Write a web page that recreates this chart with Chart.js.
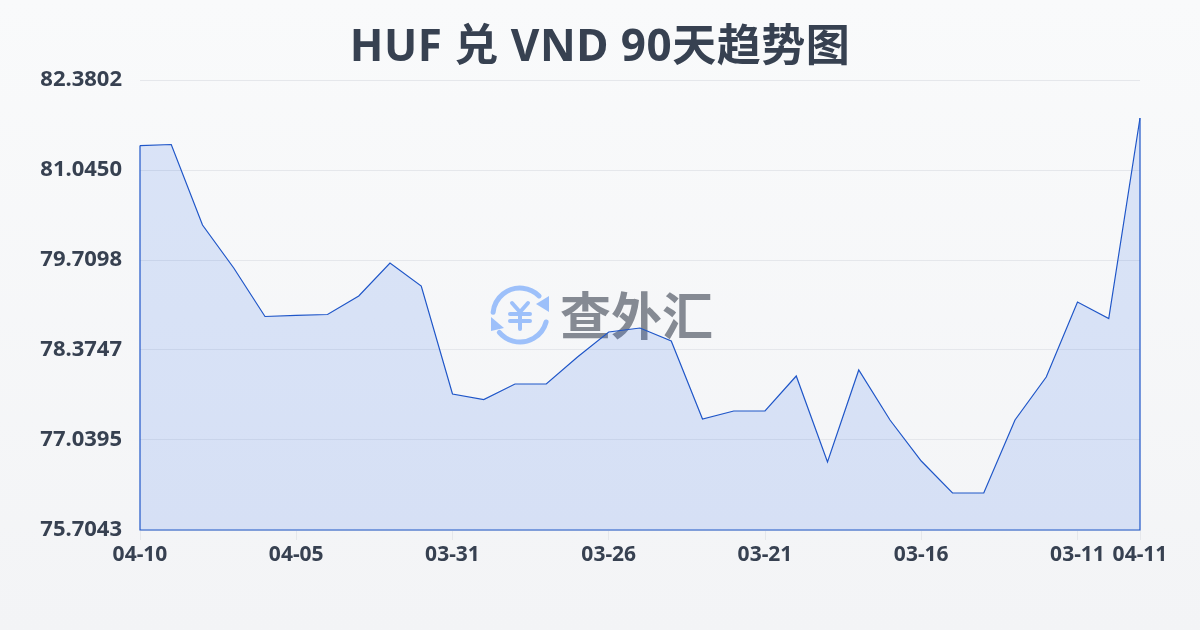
<!DOCTYPE html>
<html>
<head>
<meta charset="utf-8">
<script src="https://cdn.jsdelivr.net/npm/chart.js@4/dist/chart.umd.min.js"></script>
<style>
html, body { margin: 0; padding: 0; }
body { width: 1200px; height: 630px; overflow: hidden; background: linear-gradient(180deg, #f9fafb 0%, #f3f4f6 100%); }
#wrap { position: relative; width: 1200px; height: 630px; }
#title { position: absolute; left: 0; top: 13px; width: 1200px; margin: 0; text-align: center; color: #374151;
    font: bold 44px/62px "Noto Sans", "Noto Sans CJK SC"; letter-spacing: 0.5px; }
</style>
</head>
<body>
<div id="wrap">
<h1 id="title"></h1>
<canvas id="rateChart" width="1200" height="630"></canvas>
</div>
<script>
const chartTitle = 'HUF 兑 VND 90天趋势图';
const dates = ['04-10','04-09','04-08','04-07','04-06','04-05','04-04','04-03','04-02','04-01','03-31',
    '03-30','03-29','03-28','03-27','03-26','03-25','03-24','03-23','03-22','03-21',
    '03-20','03-19','03-18','03-17','03-16','03-15','03-14','03-13','03-12','03-11','03-10','04-11'];
const rates = [81.408,81.423,80.229,79.591,78.872,78.887,78.901,79.176,79.665,79.324,77.722,
    77.640,77.870,77.870,78.271,78.642,78.701,78.508,77.351,77.470,77.470,
    77.989,76.713,78.078,77.336,76.728,76.253,76.253,77.336,77.974,79.087,78.842,81.816];
const yTicks = [75.7043,77.0395,78.3747,79.7098,81.0450,82.3802];
const xTickIndexes = [0,5,10,15,20,25,30,32];
const watermarkText = '查外汇';

const LINE = '#1f56c8';
const TEXT = '#374151';

document.getElementById('title').textContent = chartTitle;

// logo goes under the line, so draw it before the datasets
const watermark = {
    id: 'watermark',
    beforeDatasetsDraw(chart) {
        const c = chart.ctx;
        const cx = 520, cy = 315, r = 27;
        const deg = Math.PI / 180;
        c.save();
        c.strokeStyle = '#9dc0fa';
        c.fillStyle = '#9dc0fa';
        c.lineWidth = 5;
        c.lineCap = 'round';
        c.beginPath();
        c.arc(cx, cy, r, 186 * deg, 315 * deg);
        c.stroke();
        c.beginPath();
        c.arc(cx, cy, r, 15 * deg, 140 * deg);
        c.stroke();
        // arrow heads
        c.beginPath();
        c.moveTo(549, 296); c.lineTo(549, 312); c.lineTo(536, 304);
        c.closePath(); c.fill();
        c.beginPath();
        c.moveTo(491, 317); c.lineTo(491, 331); c.lineTo(504, 328);
        c.closePath(); c.fill();
        // yen sign
        c.lineWidth = 4;
        c.beginPath();
        c.moveTo(512, 303); c.lineTo(520, 312); c.lineTo(528, 303);
        c.moveTo(520, 312); c.lineTo(520, 329);
        c.moveTo(510, 314); c.lineTo(530, 314);
        c.moveTo(510, 321); c.lineTo(530, 321);
        c.stroke();
        c.fillStyle = '#858a93';
        c.font = 'bold 51px "Noto Sans CJK SC"';
        c.textAlign = 'left';
        c.textBaseline = 'middle';
        c.fillText(watermarkText, 560, 316);
        c.restore();
    }
};

// closes the outline around the area: left side, bottom, right side
const areaOutline = {
    id: 'areaOutline',
    afterDatasetsDraw(chart) {
        const pts = chart.getDatasetMeta(0).data;
        const first = pts[0], last = pts[pts.length - 1];
        const bottom = chart.scales.y.bottom;
        const c = chart.ctx;
        c.save();
        c.strokeStyle = LINE;
        c.lineWidth = 1.2;
        c.beginPath();
        c.moveTo(first.x, first.y);
        c.lineTo(first.x, bottom);
        c.lineTo(last.x, bottom);
        c.lineTo(last.x, last.y);
        c.stroke();
        c.restore();
    }
};

const ctx = document.getElementById('rateChart').getContext('2d');
new Chart(ctx, {
    type: 'line',
    data: {
        labels: dates,
        datasets: [{
            data: rates,
            borderColor: LINE,
            borderWidth: 1.2,
            backgroundColor: 'rgba(37, 99, 235, 0.14)',
            fill: 'start',
            tension: 0,
            pointRadius: 0
        }]
    },
    options: {
        responsive: false,
        animation: false,
        layout: { padding: { top: 80, right: 60, bottom: 0, left: 0 } },
        plugins: {
            legend: { display: false },
            tooltip: { enabled: false },
            title: { display: false }
        },
        scales: {
            x: {
                offset: false,
                afterBuildTicks(axis) {
                    axis.ticks = xTickIndexes.map(i => ({ value: i }));
                },
                afterFit(axis) { axis.height = 100; },
                grid: { drawOnChartArea: false, color: '#e5e7eb', tickLength: 10 },
                border: { display: false },
                ticks: {
                    autoSkip: false,
                    maxRotation: 0,
                    padding: 2,
                    color: TEXT,
                    font: { family: '"Noto Sans"', size: 21, weight: 'bold' },
                    callback(value) { return dates[value]; }
                }
            },
            y: {
                min: yTicks[0],
                max: yTicks[yTicks.length - 1],
                afterBuildTicks(axis) {
                    axis.ticks = yTicks.map(v => ({ value: v }));
                },
                afterFit(axis) { axis.width = 140; },
                grid: { color: '#e5e7eb', lineWidth: 1, drawTicks: false },
                border: { display: false },
                ticks: {
                    padding: 18,
                    color: TEXT,
                    font: { family: '"Noto Sans"', size: 22, weight: 'bold' },
                    callback(value) { return value.toFixed(4); }
                }
            }
        }
    },
    plugins: [watermark, areaOutline]
});
</script>
</body>
</html>
